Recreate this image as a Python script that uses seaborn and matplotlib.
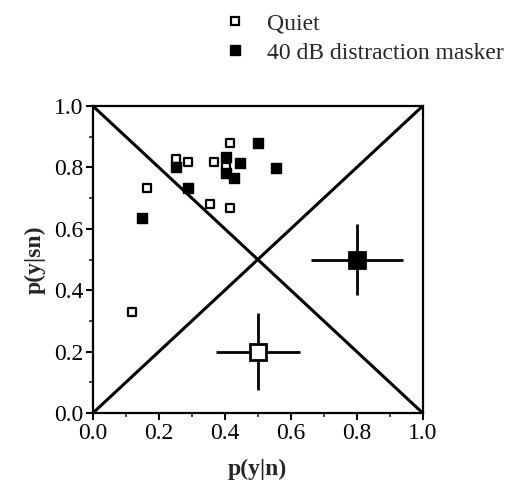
import matplotlib
matplotlib.use('Agg')
import matplotlib.pyplot as plt
import seaborn as sns
import pandas as pd

# 개별 피험자 데이터
quiet_x = [0.415, 0.252, 0.289, 0.367, 0.403, 0.165, 0.355, 0.415, 0.120]
quiet_y = [0.878, 0.827, 0.819, 0.819, 0.802, 0.734, 0.681, 0.669, 0.330]
masker_x = [0.501, 0.252, 0.403, 0.403, 0.428, 0.445, 0.555, 0.289, 0.150]
masker_y = [0.878, 0.800, 0.835, 0.781, 0.767, 0.813, 0.799, 0.734, 0.636]

# 평균과 오차 막대
mean_x = [0.50, 0.80]
mean_y = [0.20, 0.50]
err_x = [0.127, 0.14]
err_y = [0.125, 0.115]

labels = ['Quiet', '40 dB distraction masker']

df = pd.DataFrame({
    'x': quiet_x + masker_x,
    'y': quiet_y + masker_y,
    'cond': [labels[0]] * len(quiet_x) + [labels[1]] * len(masker_x),
})

sns.set_style('ticks')
plt.rcParams['font.family'] = ['Liberation Serif', 'DejaVu Serif']

fig = plt.figure(figsize=(5.1, 4.86), dpi=100)
ax = fig.add_axes([0.182, 0.150, 0.647, 0.632])

# 대각선 (chance line)
ax.plot([0, 1], [0, 1], color='black', lw=2.2, zorder=1)
ax.plot([0, 1], [1, 0], color='black', lw=2.2, zorder=1)

q = df[df['cond'] == labels[0]]
m = df[df['cond'] == labels[1]]
sns.scatterplot(data=q, x='x', y='y', marker='s', s=34, color='white',
                edgecolor='black', linewidth=1.6, ax=ax, zorder=3, legend=False)
sns.scatterplot(data=m, x='x', y='y', marker='s', s=50, color='black',
                edgecolor='black', linewidth=1, ax=ax, zorder=3, legend=False)

# 큰 평균 점
ax.errorbar(mean_x[0], mean_y[0], xerr=err_x[0], yerr=err_y[0], fmt='s',
            ms=11.5, mfc='white', mec='black', mew=2, ecolor='black',
            elinewidth=2, capsize=0, zorder=4)
ax.errorbar(mean_x[1], mean_y[1], xerr=err_x[1], yerr=err_y[1], fmt='s',
            ms=11.5, mfc='black', mec='black', mew=2, ecolor='black',
            elinewidth=2, capsize=0, zorder=4)

ax.set_xlim(0, 1)
ax.set_ylim(0, 1)
ax.set_xticks([0, 0.2, 0.4, 0.6, 0.8, 1.0])
ax.set_yticks([0, 0.2, 0.4, 0.6, 0.8, 1.0])
ax.set_xticks([0.1, 0.3, 0.5, 0.7, 0.9], minor=True)
ax.set_yticks([0.1, 0.3, 0.5, 0.7, 0.9], minor=True)
ax.xaxis.set_major_formatter(matplotlib.ticker.FormatStrFormatter('%.1f'))
ax.yaxis.set_major_formatter(matplotlib.ticker.FormatStrFormatter('%.1f'))
ax.tick_params(which='major', length=5, width=1.5, labelsize=17, colors='black', pad=2)
ax.tick_params(which='minor', length=3, width=1.2)
for sp in ax.spines.values():
    sp.set_linewidth(1.6)
    sp.set_color('black')

ax.set_xlabel('p(y|n)', fontsize=17, fontweight='bold', labelpad=11)
ax.set_ylabel('p(y|sn)', fontsize=17, fontweight='bold', labelpad=6)

# 범례
h1 = plt.Line2D([], [], marker='s', ls='none', ms=6, mfc='white', mec='black', mew=1.6)
h2 = plt.Line2D([], [], marker='s', ls='none', ms=7, mfc='black', mec='black')
fig.legend([h1, h2], labels, loc='upper left', bbox_to_anchor=(0.438, 0.973),
           frameon=False, fontsize=17, handletextpad=0.85, labelspacing=0.32,
           handlelength=1.0, borderpad=0, borderaxespad=0)

fig.savefig('out.png', dpi=100)
